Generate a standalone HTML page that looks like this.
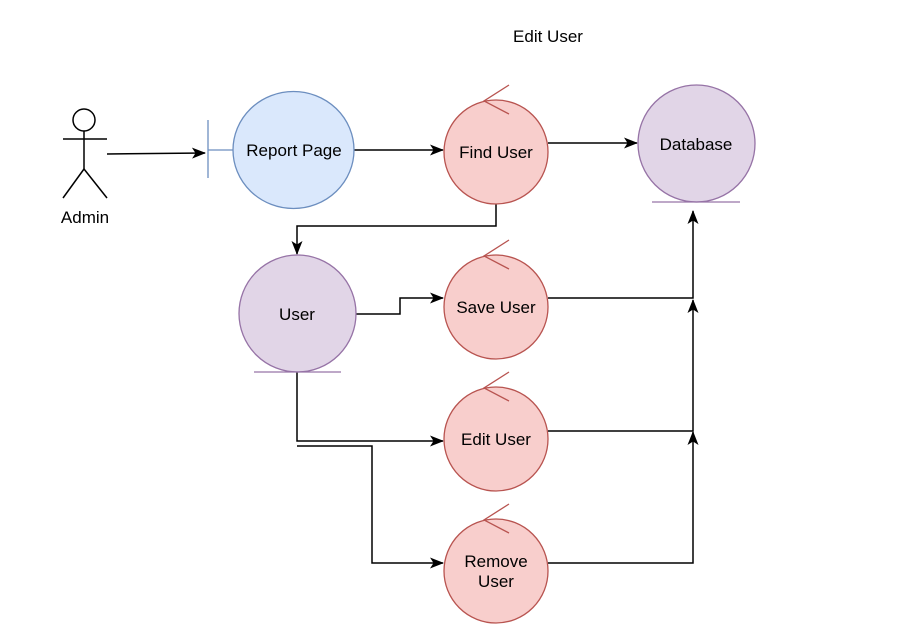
<!DOCTYPE html>
<html><head><style>body{margin:0;background:#fff}svg{display:block}text{font-family:"Liberation Sans",sans-serif;font-size:17px;fill:#000}</style></head>
<body>
<svg width="916" height="644" viewBox="0 0 916 644" xmlns="http://www.w3.org/2000/svg">
<defs><marker id="a" viewBox="0 0 14 11" refX="13" refY="5.5" markerWidth="14" markerHeight="11" markerUnits="userSpaceOnUse" orient="auto"><path d="M0,0 L14,5.5 L0,11 L3.5,5.5 Z" fill="#000"/></marker></defs>
<text x="548" y="42" text-anchor="middle">Edit User</text>
<g stroke="#000" stroke-width="1.5" fill="none">
<circle cx="84" cy="120" r="11" fill="#fff"/>
<line x1="84" y1="131" x2="84" y2="169"/><line x1="63" y1="139" x2="107" y2="139"/>
<line x1="84" y1="169" x2="63" y2="198"/><line x1="84" y1="169" x2="107" y2="198"/>
</g>
<text x="85" y="223" text-anchor="middle">Admin</text>
<g stroke="#000" stroke-width="1.5" fill="none">
<path d="M107,154 L205,153" marker-end="url(#a)"/>
<path d="M354,150 L443,150" marker-end="url(#a)"/>
<path d="M548,143 L637,143" marker-end="url(#a)"/>
<path d="M496,204 V226 H297 V254" marker-end="url(#a)"/>
<path d="M356,314 H400 V298 H443" marker-end="url(#a)"/>
<path d="M548,298 H693 V211" marker-end="url(#a)"/>
<path d="M548,431 H693 V300" marker-end="url(#a)"/>
<path d="M548,563 H693 V432" marker-end="url(#a)"/>
<path d="M297,372 V441 H443" marker-end="url(#a)"/>
<path d="M297,446 H372 V563 H443" marker-end="url(#a)"/>
</g>
<g stroke="#6c8ebf" stroke-width="1.3">
<line x1="208" y1="120" x2="208" y2="178"/><line x1="208" y1="150" x2="233" y2="150"/>
<ellipse cx="293.5" cy="150" rx="60.5" ry="58.5" fill="#dae8fc"/>
</g>
<text x="294" y="156" text-anchor="middle">Report Page</text>
<g stroke="#b85450" stroke-width="1.3" fill="#f8cecc">
<circle cx="496" cy="152" r="52"/><path d="M509,85 L484,101 L509,114" fill="none"/>
<circle cx="496" cy="307" r="52"/><path d="M509,240 L484,256 L509,269" fill="none"/>
<circle cx="496" cy="439" r="52"/><path d="M509,372 L484,388 L509,401" fill="none"/>
<circle cx="496" cy="571" r="52"/><path d="M509,504 L484,520 L509,533" fill="none"/>
</g>
<text x="496" y="158" text-anchor="middle">Find User</text>
<text x="496" y="313" text-anchor="middle">Save User</text>
<text x="496" y="445" text-anchor="middle">Edit User</text>
<text x="496" y="567" text-anchor="middle">Remove</text>
<text x="496" y="587" text-anchor="middle">User</text>
<g stroke="#9673a6" stroke-width="1.3" fill="#e1d5e7">
<ellipse cx="696.5" cy="143.5" rx="58.5" ry="58.5"/><line x1="652" y1="202" x2="740" y2="202"/>
<ellipse cx="297.5" cy="313.5" rx="58.5" ry="58.5"/><line x1="254" y1="372" x2="341" y2="372"/>
</g>
<text x="696" y="150" text-anchor="middle">Database</text>
<text x="297" y="320" text-anchor="middle">User</text>
</svg>
</body></html>
